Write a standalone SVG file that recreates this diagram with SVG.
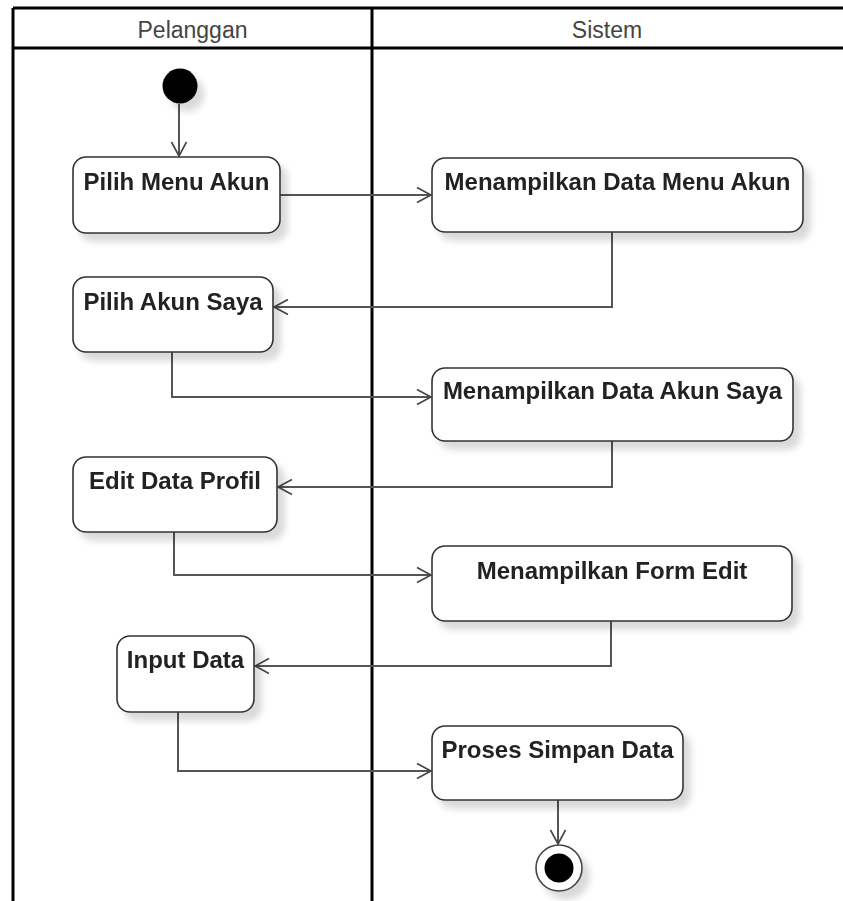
<svg xmlns="http://www.w3.org/2000/svg" width="843" height="901" viewBox="0 0 843 901">
  <defs>
    <filter id="shadow" x="-20%" y="-20%" width="150%" height="160%">
      <feGaussianBlur in="SourceAlpha" stdDeviation="3.5"/>
      <feOffset dx="7" dy="8" result="off"/>
      <feComponentTransfer result="soft">
        <feFuncA type="linear" slope="0.15"/>
      </feComponentTransfer>
      <feMerge>
        <feMergeNode in="soft"/>
        <feMergeNode in="SourceGraphic"/>
      </feMerge>
    </filter>
    <marker id="open-arrow" markerWidth="18" markerHeight="18" refX="15" refY="9" orient="auto" markerUnits="userSpaceOnUse">
      <path d="M1,1.5 L15,9 L1,16.5" fill="none" stroke="#444" stroke-width="1.6"/>
    </marker>
  </defs>
  <style>
    .lane { stroke: #000; stroke-width: 3; fill: none; }
    .lane-title { font-family: "Liberation Sans", Arial, sans-serif; font-size: 23px; fill: #444; text-anchor: middle; }
    .action rect { fill: #fff; stroke: #333; stroke-width: 1.6; }
    .action text { font-family: "Liberation Sans", Arial, sans-serif; font-size: 24px; font-weight: bold; fill: #222; text-anchor: middle; }
    .flow { fill: none; stroke: #555; stroke-width: 2; marker-end: url(#open-arrow); }
  </style>

  <rect width="843" height="901" fill="#fff"/>

  <!-- swimlanes -->
  <g id="swimlanes">
    <line class="lane" x1="13" y1="8" x2="845" y2="8"/>
    <line class="lane" x1="13" y1="48" x2="845" y2="48"/>
    <line class="lane" x1="13" y1="8" x2="13" y2="901"/>
    <line class="lane" x1="372" y1="8" x2="372" y2="901"/>
    <text class="lane-title" x="192.5" y="38">Pelanggan</text>
    <text class="lane-title" x="607" y="38">Sistem</text>
  </g>

  <!-- connectors -->
  <g id="connectors">
    <path class="flow" d="M179,104 L179,156"/>
    <path class="flow" d="M280,195 L431,195"/>
    <path class="flow" d="M612,232 L612,307 L274,307"/>
    <path class="flow" d="M172,352 L172,397 L431,397"/>
    <path class="flow" d="M612,441 L612,487 L278,487"/>
    <path class="flow" d="M174,532 L174,575 L431,575"/>
    <path class="flow" d="M611,621 L611,666 L255,666"/>
    <path class="flow" d="M178,712 L178,771 L431,771"/>
    <path class="flow" d="M558,800 L558,844"/>
  </g>

  <!-- start -->
  <g id="start" filter="url(#shadow)">
    <circle cx="180" cy="86" r="17.5" fill="#000"/>
  </g>

  <!-- actions -->
  <g id="pilih-menu-akun" class="action" filter="url(#shadow)">
    <rect x="73" y="157" width="207" height="76" rx="13"/>
    <text x="176.5" y="190">Pilih Menu Akun</text>
  </g>
  <g id="menampilkan-data-menu-akun" class="action" filter="url(#shadow)">
    <rect x="432" y="158" width="371" height="74" rx="13"/>
    <text x="617.5" y="190">Menampilkan Data Menu Akun</text>
  </g>
  <g id="pilih-akun-saya" class="action" filter="url(#shadow)">
    <rect x="73" y="277" width="200" height="75" rx="13"/>
    <text x="173" y="310">Pilih Akun Saya</text>
  </g>
  <g id="menampilkan-data-akun-saya" class="action" filter="url(#shadow)">
    <rect x="432" y="368" width="361" height="73" rx="13"/>
    <text x="612.5" y="399">Menampilkan Data Akun Saya</text>
  </g>
  <g id="edit-data-profil" class="action" filter="url(#shadow)">
    <rect x="73" y="457" width="204" height="75" rx="13"/>
    <text x="175" y="489">Edit Data Profil</text>
  </g>
  <g id="menampilkan-form-edit" class="action" filter="url(#shadow)">
    <rect x="432" y="546" width="360" height="75" rx="13"/>
    <text x="612" y="579">Menampilkan Form Edit</text>
  </g>
  <g id="input-data" class="action" filter="url(#shadow)">
    <rect x="117" y="636" width="137" height="76" rx="13"/>
    <text x="185.5" y="668">Input Data</text>
  </g>
  <g id="proses-simpan-data" class="action" filter="url(#shadow)">
    <rect x="432" y="726" width="251" height="74" rx="13"/>
    <text x="557.5" y="758">Proses Simpan Data</text>
  </g>

  <!-- end -->
  <g id="end" filter="url(#shadow)">
    <circle cx="559" cy="868" r="23" fill="#fff" stroke="#444" stroke-width="1.6"/>
    <circle cx="559" cy="868" r="14.5" fill="#000"/>
  </g>
</svg>
